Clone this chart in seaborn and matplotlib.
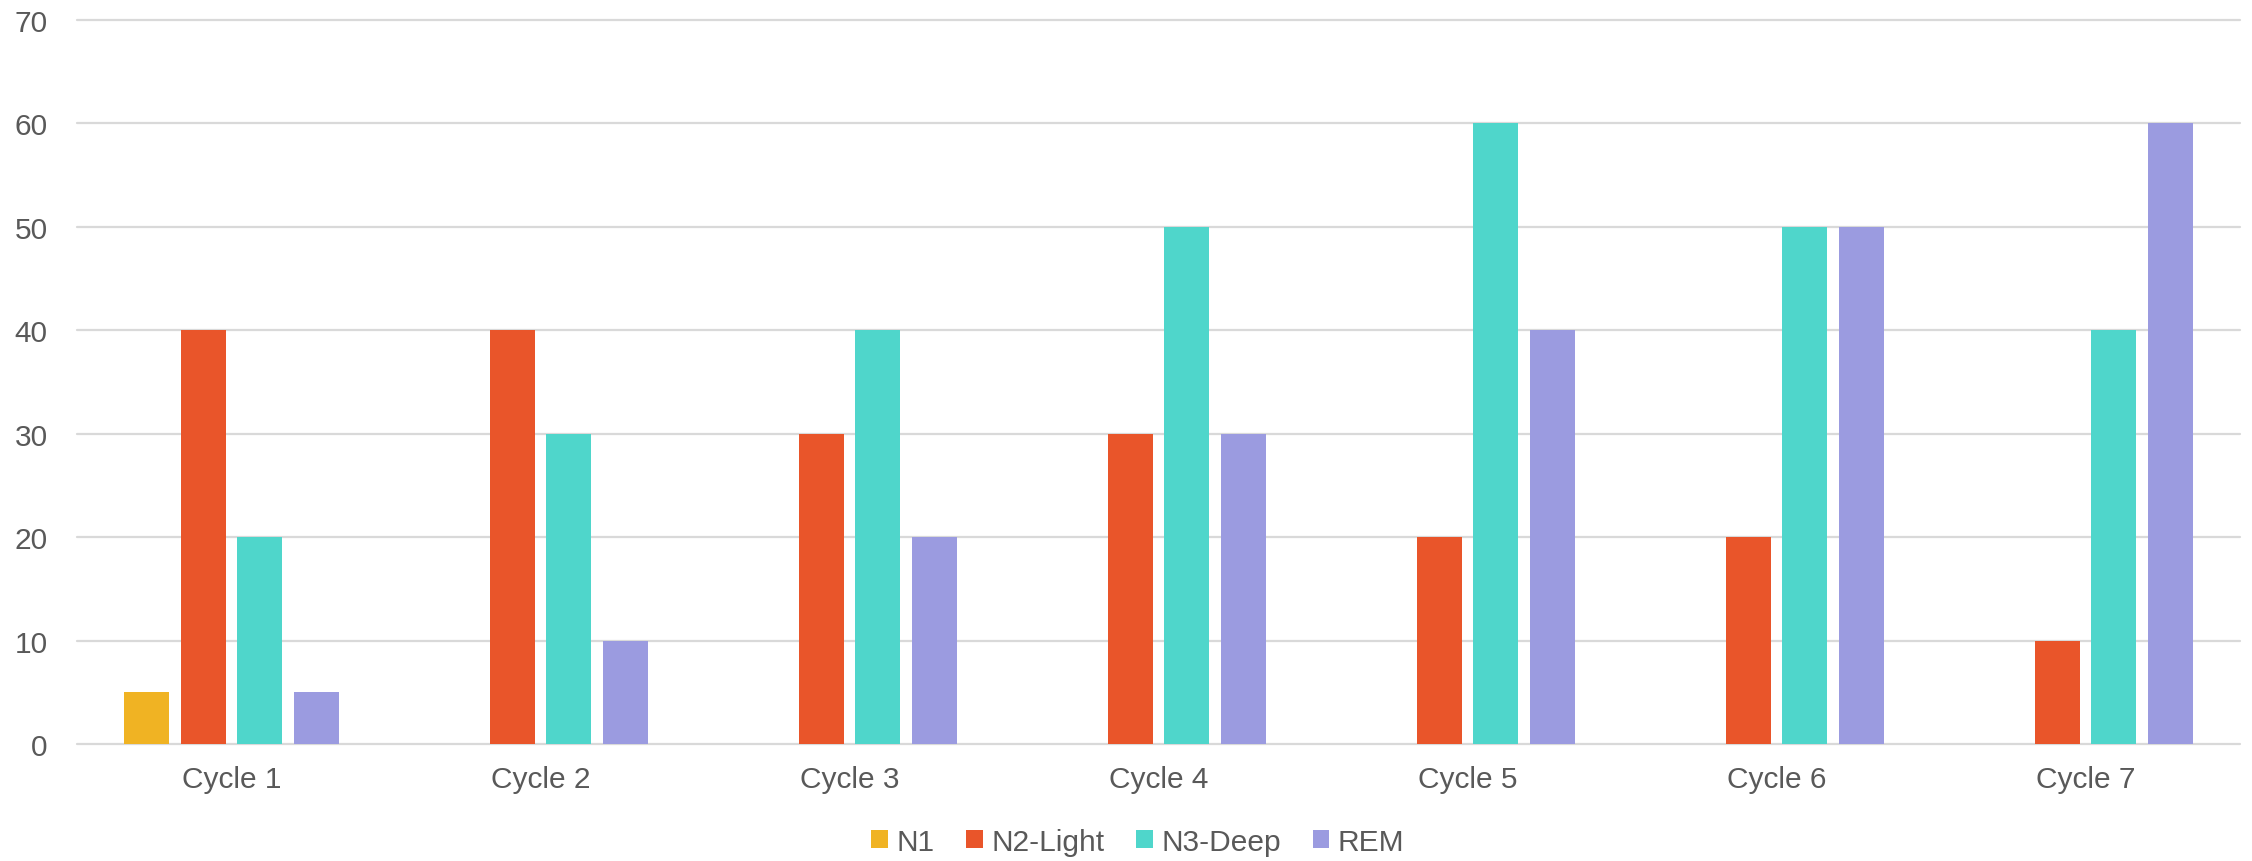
import numpy as np
import pandas as pd
import matplotlib
matplotlib.use("Agg")
import matplotlib.pyplot as plt
import seaborn as sns

# Minutes spent in each sleep stage per cycle
cycles = ["Cycle 1", "Cycle 2", "Cycle 3", "Cycle 4", "Cycle 5", "Cycle 6", "Cycle 7"]
stages = ["N1", "N2-Light", "N3-Deep", "REM"]
n1 = [5, np.nan, np.nan, np.nan, np.nan, np.nan, np.nan]
n2_light = [40, 40, 30, 30, 20, 20, 10]
n3_deep = [20, 30, 40, 50, 60, 50, 40]
rem = [5, 10, 20, 30, 40, 50, 60]
stage_colors = ["#F0B323", "#E9552A", "#4FD6CB", "#9B9BE0"]
y_ticks = [0, 10, 20, 30, 40, 50, 60, 70]

df = pd.DataFrame({
    "cycle": cycles * 4,
    "stage": [s for s in stages for _ in cycles],
    "minutes": n1 + n2_light + n3_deep + rem,
})

sns.set_theme(style="white")
plt.rcParams["font.family"] = ["Liberation Sans", "DejaVu Sans"]
text_color = "#595959"
grid_color = "#D9D9D9"

fig = plt.figure(figsize=(22.52, 8.62), dpi=100)
ax = fig.add_axes([77 / 2252, 1 - 745 / 862, (2240 - 77) / 2252, (745 - 21) / 862])

sns.barplot(
    data=df, x="cycle", y="minutes", hue="stage",
    order=cycles, hue_order=stages, palette=stage_colors,
    width=0.733, gap=0.2, linewidth=0, saturation=1,
    errorbar=None, ax=ax,
)

ax.set_ylim(0, 70)
ax.set_xlim(-0.5, len(cycles) - 0.5)
ax.set_yticks(y_ticks)
ax.set_xlabel("")
ax.set_ylabel("")
for s in ax.spines.values():
    s.set_visible(False)
ax.yaxis.grid(True, color=grid_color, linewidth=1.6)
ax.xaxis.grid(False)
ax.set_axisbelow(True)
for gl in ax.get_ygridlines():
    gl.set_clip_on(False)
ax.tick_params(axis="both", length=0, labelsize=21.5, colors=text_color)
ax.tick_params(axis="y", pad=21)
ax.tick_params(axis="x", pad=15)

handles, labels = ax.get_legend_handles_labels()
ax.get_legend().remove()
fig.legend(
    handles, labels, loc="center", bbox_to_anchor=(1138 / 2252, 1 - 843 / 862),
    ncol=4, frameon=False, fontsize=21.5, labelcolor=text_color,
    handlelength=0.55, handleheight=0.55, handletextpad=0.3,
    columnspacing=1.05,
)

fig.savefig("out.png", dpi=100, facecolor="white")
